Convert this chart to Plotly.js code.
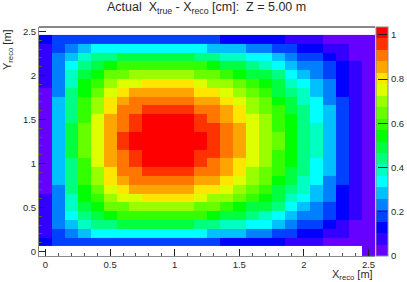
<!DOCTYPE html>
<html><head><meta charset="utf-8">
<script src="https://cdn.plot.ly/plotly-3.0.1.min.js"></script>
<style>html,body{margin:0;padding:0;background:#fff}#c{width:407px;height:282px}</style>
</head><body><div id="c"></div>
<script>
var xCenters=[0,0.1,0.2,0.3,0.4,0.5,0.6,0.7,0.8,0.9,1,1.1,1.2,1.3,1.4,1.5,1.6,1.7,1.8,1.9,2,2.1,2.2,2.3,2.4,2.5];
var yEdges=[-0.05,0.06,0.16,0.26,0.36,0.46,0.56,0.66,0.76,0.86,0.96,1.06,1.16,1.26,1.36,1.46,1.56,1.66,1.76,1.86,1.96,2.06,2.16,2.26,2.36,2.46];
var rowUnder=[null,null,null,null,null,null,null,null,null,null,null,null,null,null,null,null,null,null,null,null,null,null,null,null,null,.03];
var row01=[.13,.18,.18,.18,.18,.18,.18,.18,.18,.18,.18,.18,.18,.18,.13,.13,.13,.13,.13,.08,.08,.08,.03,.03,.03,.03];
var row02=[.08,.18,.23,.28,.34,.34,.34,.34,.34,.34,.34,.34,.34,.28,.28,.28,.23,.23,.18,.18,.13,.13,.08,.08,.03,.03];
var row03=[.08,.23,.28,.39,.44,.44,.49,.49,.49,.49,.49,.49,.44,.44,.39,.39,.34,.34,.28,.23,.18,.18,.13,.08,.03,.03];
var row04=[.08,.23,.34,.44,.49,.54,.6,.6,.6,.6,.6,.6,.6,.54,.49,.49,.44,.39,.34,.28,.23,.23,.18,.13,.08,.03];
var row05=[.08,.23,.39,.49,.54,.65,.65,.7,.7,.7,.7,.7,.65,.65,.6,.54,.49,.49,.44,.34,.28,.23,.18,.13,.08,.03];
var row06=[.08,.23,.39,.54,.6,.7,.75,.75,.8,.8,.8,.8,.75,.7,.7,.65,.6,.54,.49,.39,.34,.28,.23,.13,.08,.03];
var row07=[.03,.23,.44,.54,.65,.75,.8,.85,.85,.85,.85,.85,.8,.8,.75,.7,.65,.6,.49,.44,.39,.28,.23,.13,.08,.03];
var row08=[.03,.28,.44,.6,.7,.8,.85,.91,.91,.91,.91,.91,.85,.85,.8,.75,.7,.65,.54,.49,.39,.34,.23,.18,.08,.03];
var row09=[.03,.28,.44,.6,.7,.8,.91,.91,.96,.96,.96,.96,.91,.91,.85,.8,.7,.65,.6,.49,.44,.34,.28,.18,.08,.03];
var row10=[.03,.28,.44,.6,.75,.85,.91,.96,1.01,1.01,1.01,1.01,.96,.91,.85,.8,.75,.7,.6,.54,.44,.34,.28,.18,.08,.03];
var row11=[.03,.28,.49,.65,.75,.85,.91,.96,1.01,1.01,1.01,1.01,.96,.96,.91,.85,.75,.7,.6,.54,.44,.39,.28,.18,.08,.03];
var row12=[.03,.28,.49,.65,.75,.85,.96,1.01,1.01,1.01,1.01,1.01,1.01,.96,.91,.85,.75,.7,.65,.54,.44,.39,.28,.18,.08,.03];
var row13=[.03,.28,.49,.65,.75,.85,.96,1.01,1.01,1.01,1.01,1.01,1.01,.96,.91,.85,.75,.7,.65,.54,.44,.39,.28,.18,.08,.03];
var row14=[.03,.28,.49,.65,.75,.85,.91,.96,1.01,1.01,1.01,1.01,.96,.96,.91,.85,.75,.7,.6,.54,.44,.39,.28,.18,.08,.03];
var row15=[.03,.28,.44,.6,.75,.85,.91,.96,1.01,1.01,1.01,1.01,.96,.91,.85,.8,.75,.7,.6,.54,.44,.34,.28,.18,.08,.03];
var row16=[.03,.28,.44,.6,.7,.8,.91,.91,.96,.96,.96,.96,.91,.91,.85,.8,.7,.65,.6,.49,.44,.34,.28,.18,.08,.03];
var row17=[.03,.28,.44,.6,.7,.8,.85,.91,.91,.91,.91,.91,.85,.85,.8,.75,.7,.65,.54,.49,.39,.34,.23,.18,.08,.03];
var row18=[.03,.23,.44,.54,.65,.75,.8,.85,.85,.85,.85,.85,.8,.8,.75,.7,.65,.6,.49,.44,.39,.28,.23,.13,.08,.03];
var row19=[.08,.23,.39,.54,.6,.7,.75,.75,.8,.8,.8,.8,.75,.7,.7,.65,.6,.54,.49,.39,.34,.28,.23,.13,.08,.03];
var row20=[.08,.23,.39,.49,.54,.65,.65,.7,.7,.7,.7,.7,.65,.65,.6,.54,.49,.49,.44,.34,.28,.23,.18,.13,.08,.03];
var row21=[.08,.23,.34,.44,.49,.54,.6,.6,.6,.6,.6,.6,.6,.54,.49,.49,.44,.39,.34,.28,.23,.23,.18,.13,.08,.03];
var row22=[.08,.23,.28,.39,.44,.44,.49,.49,.49,.49,.49,.49,.44,.44,.39,.39,.34,.34,.28,.23,.18,.18,.13,.08,.03,.03];
var row23=[.08,.18,.23,.28,.34,.34,.34,.34,.34,.34,.34,.34,.34,.28,.28,.28,.23,.23,.18,.18,.13,.13,.08,.08,.03,.03];
var row24=[.13,.18,.18,.18,.18,.18,.18,.18,.18,.18,.18,.18,.18,.18,.13,.13,.13,.13,.13,.08,.08,.08,.03,.03,.03,.03];
var rows=[rowUnder,row24,row23,row22,row21,row20,row19,row18,row17,row16,row15,row14,row13,row12,row11,row10,row09,row08,row07,row06,row05,row04,row03,row02,row01];
var paletteColors=['#6600ff','#3300ff','#0000ff','#0040ff','#0080ff','#00c0ff','#00ffff','#00ffc0','#00ff80','#00ff40','#00ff00','#33ff00','#66ff00','#99ff00','#ddff00','#ffe600','#ffa500','#ff7700','#ff3300','#ff0000'];
var tickVals=[0,0.2,0.4,0.6,0.8,1];
var tickTexts=['0','0.2','0.4','0.6','0.8','1'];
var cs=[];
paletteColors.forEach(function(c,i){cs.push([i/paletteColors.length,c]);cs.push([(i+1)/paletteColors.length,c]);});
var W=407,H=282,L=38.5,R=375,T=27.3,B=256.3;
var txt='#2a2a2a';
var axisBase={showgrid:false,zeroline:false,showline:true,linecolor:'#8a8a8a',linewidth:1,ticks:'inside',tickcolor:'#222',tickwidth:1,
 tickfont:{family:'Liberation Sans',size:9.5,color:txt},layer:'above traces',range:[-0.05,2.55],tickmode:'array',tickvals:[0,0.5,1,1.5,2,2.5],ticktext:['0','0.5','1','1.5','2','2.5'],
 minor:{ticks:'inside',ticklen:3,tickcolor:'#555',tickwidth:1,tickmode:'array',tickvals:[0.1,0.2,0.3,0.4,0.6,0.7,0.8,0.9,1.1,1.2,1.3,1.4,1.6,1.7,1.8,1.9,2.1,2.2,2.3,2.4]}};
var layout={width:W,height:H,paper_bgcolor:'#fff',plot_bgcolor:'#fff',showlegend:false,
 margin:{l:L,r:W-R,t:T,b:H-B,pad:0,autoexpand:false},
 font:{family:'Liberation Sans',color:txt},
 xaxis:Object.assign({},axisBase,{ticklen:7}),
 yaxis:Object.assign({},axisBase,{ticklen:7}),
 shapes:[{type:'line',xref:'paper',yref:'paper',x0:0,x1:1,y0:1,y1:1,line:{color:'#111',width:1}}],
 annotations:[
  {text:'Actual  X<sub>true</sub> - X<sub>reco</sub> [cm]:  Z = 5.00 m',xref:'paper',yref:'paper',x:(206-L)/(R-L),y:(B-8)/(B-T),xanchor:'center',yanchor:'middle',showarrow:false,font:{size:12.5,color:txt,family:'Liberation Sans'}},
  {text:'X<sub>reco</sub> [m]',xref:'paper',yref:'paper',x:1,y:(B-275.5)/(B-T),xanchor:'right',yanchor:'middle',showarrow:false,font:{size:11,color:txt,family:'Liberation Sans'}},
  {text:'Y<sub>reco</sub> [m]',xref:'paper',yref:'paper',x:(7-L)/(R-L),y:1,xanchor:'center',yanchor:'top',textangle:-90,showarrow:false,font:{size:11,color:txt,family:'Liberation Sans'}}
 ]};
var trace={type:'heatmap',x:xCenters,y:yEdges,z:rows,zmin:0,zmax:1.036,colorscale:cs,xgap:0,ygap:0,hoverongaps:false,
 colorbar:{thickness:12,thicknessmode:'pixels',len:1,lenmode:'fraction',x:(376-L)/(R-L),xanchor:'left',y:0.5,yanchor:'middle',xpad:0,ypad:0,
  outlinecolor:'#8a8a8a',outlinewidth:1,borderwidth:0,ticks:'inside',ticklen:10,tickcolor:'#222',tickwidth:1,tickmode:'array',tickvals:tickVals,ticktext:tickTexts,
  tickfont:{family:'Liberation Sans',size:9.5,color:txt}}};
Plotly.newPlot('c',[trace],layout,{displayModeBar:false,staticPlot:true});
</script></body></html>
